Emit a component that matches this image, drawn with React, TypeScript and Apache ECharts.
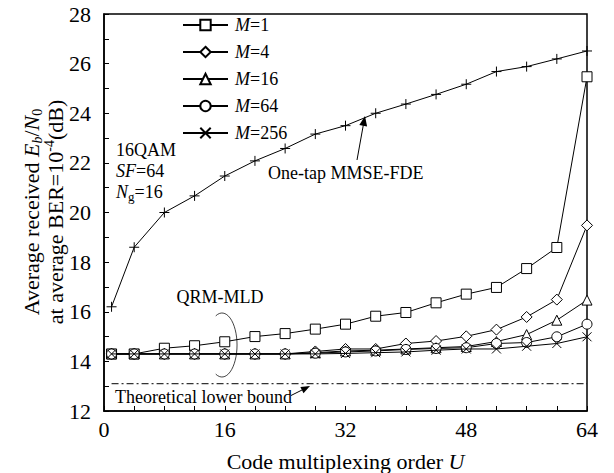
import React, { useEffect, useRef } from "react";
import * as echarts from "echarts";

const U = [1, 4, 8, 12, 16, 20, 24, 28, 32, 36, 40, 44, 48, 52, 56, 60, 64];
const mmse = [16.2, 18.6, 20.0, 20.67, 21.47, 22.08, 22.58, 23.16, 23.5, 24.0, 24.37, 24.76, 25.17, 25.68, 25.88, 26.19, 26.51];
const m1 = [14.3, 14.3, 14.53, 14.63, 14.79, 15.0, 15.12, 15.3, 15.5, 15.82, 15.97, 16.36, 16.71, 16.98, 17.74, 18.59, 25.47];
const m4 = [14.3, 14.3, 14.3, 14.3, 14.3, 14.3, 14.3, 14.4, 14.5, 14.5, 14.72, 14.82, 15.01, 15.28, 15.79, 16.49, 19.48];
const m16 = [14.3, 14.3, 14.3, 14.3, 14.3, 14.3, 14.3, 14.35, 14.42, 14.45, 14.5, 14.55, 14.6, 14.8, 15.08, 15.66, 16.47];
const m64 = [14.3, 14.3, 14.3, 14.3, 14.3, 14.3, 14.3, 14.33, 14.38, 14.42, 14.48, 14.52, 14.55, 14.72, 14.76, 14.99, 15.5];
const m256 = [14.3, 14.3, 14.3, 14.3, 14.3, 14.3, 14.3, 14.3, 14.32, 14.35, 14.38, 14.45, 14.5, 14.5, 14.61, 14.72, 14.99];
const lowerBound = 13.1;

const seriesNames = ["M=1", "M=4", "M=16", "M=64", "M=256"];
const seriesValues = [m1, m4, m16, m64, m256];
const seriesSymbols = ["rect", "diamond", "triangle", "circle", "path://M0,0L10,10M10,0L0,10"];
const seriesSizes = [10, 11, 10, 10, 9];

const xTicks = [0, 16, 32, 48, 64];
const yTicks = [12, 14, 16, 18, 20, 22, 24, 26, 28];

const FONT = '"Liberation Serif", "Times New Roman", serif';

export default function App() {
  const ref = useRef<HTMLDivElement>(null);
  useEffect(() => {
    if (!ref.current) return;
    const chart = echarts.init(ref.current, null, { renderer: "svg" });
    const itemStyle = { color: "#fff", borderColor: "#000", borderWidth: 1 };
    const series: any[] = seriesNames.map((name, k) => ({
      name,
      type: "line",
      data: U.map((u, i) => [u, seriesValues[k][i]]),
      symbol: seriesSymbols[k],
      symbolSize: seriesSizes[k],
      showAllSymbol: true,
      lineStyle: { color: "#000", width: 1 },
      itemStyle,
      z: 3 + k,
    }));
    series.push({
      name: "One-tap MMSE-FDE",
      type: "line",
      data: U.map((u, i) => [u, mmse[i]]),
      symbol: "path://M5,0L5,10M0,5L10,5",
      symbolSize: 10,
      lineStyle: { color: "#000", width: 1 },
      itemStyle,
    });
    series.push({
      name: "Theoretical lower bound",
      type: "line",
      data: [[U[0], lowerBound], [U[U.length - 1], lowerBound]],
      symbol: "none",
      lineStyle: { color: "#000", width: 1, type: [7, 3, 2, 3] },
    });

    const main = { fontFamily: FONT, fontSize: 22, color: "#000", lineHeight: 26 };
    const ann = { fontFamily: FONT, fontSize: 18, color: "#000", lineHeight: 21 };

    chart.setOption({
      animation: false,
      grid: {
        left: 104,
        right: 27,
        top: 14,
        bottom: 62,
        show: true,
        borderColor: "#000",
        borderWidth: 1.5,
        outerBoundsMode: "none",
        containLabel: false,
      },
      xAxis: {
        type: "value",
        min: 0,
        max: 64,
        interval: 4,
        axisLine: { lineStyle: { color: "#000", width: 1.5 } },
        axisTick: { inside: true, length: 5, lineStyle: { color: "#000", width: 1 } },
        splitLine: { show: false },
        axisLabel: {
          margin: 7,
          fontFamily: FONT,
          fontSize: 22,
          color: "#000",
          formatter: (v: number) => (xTicks.includes(v) ? String(v) : ""),
        },
        name: "{n|Code multiplexing order }{i|U}",
        nameLocation: "middle",
        nameGap: 37,
        nameTextStyle: {
          rich: {
            n: { ...main },
            i: { ...main, fontStyle: "italic" },
          },
        },
      },
      yAxis: {
        type: "value",
        min: 12,
        max: 28,
        interval: 1,
        axisLine: { lineStyle: { color: "#000", width: 1.5 } },
        axisTick: { inside: true, length: 5, lineStyle: { color: "#000", width: 1 } },
        splitLine: { show: false },
        axisLabel: {
          margin: 13,
          fontFamily: FONT,
          fontSize: 22,
          color: "#000",
          formatter: (v: number) => (yTicks.includes(v) ? String(v) : ""),
        },
      },
      legend: {
        data: seriesNames,
        orient: "vertical",
        left: 177,
        top: 11,
        itemWidth: 45,
        itemHeight: 13,
        itemGap: 9,
        formatter: (name: string) => `{i|M}{n|=${name.split("=")[1]}}`,
        textStyle: {
          padding: [0, 0, 0, 2],
          rich: {
            i: { fontFamily: FONT, fontSize: 18, fontStyle: "italic", color: "#000", lineHeight: 22 },
            n: { fontFamily: FONT, fontSize: 18, color: "#000", lineHeight: 22 },
          },
        },
      },
      graphic: [
        {
          type: "text",
          x: 31,
          y: 212,
          rotation: Math.PI / 2,
          style: {
            text: "{n|Average received }{i|E}{sbi|b}{n|/}{i|N}{sb|0}",
            align: "center",
            verticalAlign: "middle",
            rich: {
              n: { ...main },
              i: { ...main, fontStyle: "italic" },
              sb: { fontFamily: FONT, fontSize: 14, lineHeight: 14, verticalAlign: "bottom", color: "#000" },
              sbi: { fontFamily: FONT, fontSize: 14, lineHeight: 14, verticalAlign: "bottom", fontStyle: "italic", color: "#000" },
            },
          },
        },
        {
          type: "text",
          x: 55,
          y: 212,
          rotation: Math.PI / 2,
          style: {
            text: "{n|at average BER=10}{sp|-4}{n|(dB)}",
            align: "center",
            verticalAlign: "middle",
            rich: {
              n: { ...main },
              sp: { fontFamily: FONT, fontSize: 14, lineHeight: 14, verticalAlign: "top", color: "#000" },
            },
          },
        },
        {
          type: "text",
          x: 116,
          y: 139.5,
          style: {
            text: "{n|16QAM}\n{i|SF}{n|=64}\n{i|N}{sb|g}{n|=16}",
            align: "left",
            verticalAlign: "top",
            rich: {
              n: { ...ann },
              i: { ...ann, fontStyle: "italic" },
              sb: { fontFamily: FONT, fontSize: 13, lineHeight: 12, verticalAlign: "bottom", color: "#000" },
            },
          },
        },
        {
          type: "text",
          x: 268,
          y: 173,
          style: { text: "One-tap MMSE-FDE", font: `18px ${FONT}`, fill: "#000", align: "left", verticalAlign: "middle" },
        },
        {
          type: "line",
          shape: { x1: 357, y1: 160, x2: 363.5, y2: 124 },
          style: { stroke: "#000", lineWidth: 1 },
        },
        {
          type: "polygon",
          shape: { points: [[365, 116], [367.1, 126.5], [359.3, 125.1]] },
          style: { fill: "#000" },
        },
        {
          type: "text",
          x: 220,
          y: 297,
          style: { text: "QRM-MLD", font: `18px ${FONT}`, fill: "#000", align: "center", verticalAlign: "middle" },
        },
        {
          type: "arc",
          x: 222,
          y: 345,
          scaleX: 0.47,
          shape: { cx: 0, cy: 0, r: 32, startAngle: -2.0, endAngle: 2.0, clockwise: true },
          style: { stroke: "#000", lineWidth: 1, fill: "none" },
        },
        {
          type: "text",
          x: 115,
          y: 396.5,
          style: { text: "Theoretical lower bound", font: `18px ${FONT}`, fill: "#000", align: "left", verticalAlign: "middle" },
        },
        {
          type: "line",
          shape: { x1: 291, y1: 395.5, x2: 302, y2: 390 },
          style: { stroke: "#000", lineWidth: 1 },
        },
        {
          type: "polygon",
          shape: { points: [[310, 386], [303.5, 393.2], [300.4, 386.9]] },
          style: { fill: "#000" },
        },
      ],
      series,
    });
    return () => chart.dispose();
  }, []);
  return <div ref={ref} style={{ position: "fixed", left: 0, top: 0, width: 614, height: 473, background: "#fff" }} />;
}
